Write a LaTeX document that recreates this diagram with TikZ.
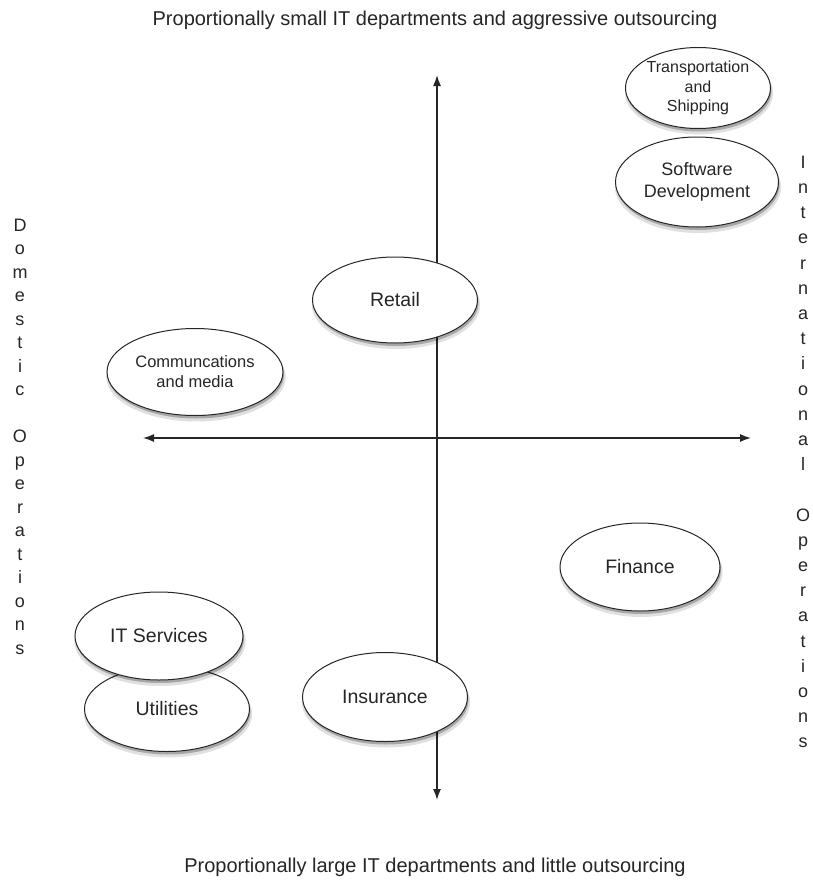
\documentclass[tikz,border=0pt]{standalone}
\usepackage{fontspec}
\setmainfont{Liberation Sans}
\usetikzlibrary{shapes.geometric,shadows,arrows.meta}
\begin{document}
\begin{tikzpicture}[x=1pt,y=-1pt,
  bub/.style={ellipse,draw=black!85,line width=1pt,fill=white,inner sep=0pt,align=center,text=black!85,
    drop shadow={shadow xshift=1pt,shadow yshift=-5pt,opacity=0.12,fill=black,shadow scale=1.02},
    drop shadow={shadow xshift=1pt,shadow yshift=-3pt,opacity=0.25,fill=black}},
  big/.style={font=\fontsize{19.5}{23}\selectfont},
  small/.style={font=\fontsize{16}{19.5}\selectfont},
  axis/.style={line width=1.4pt,draw=black!85,{Latex[length=11pt,width=8pt]}-{Latex[length=11pt,width=8pt]}},
  lbl/.style={text=black!85,font=\fontsize{20}{24}\selectfont,inner sep=0pt},
  side/.style={text=black!85,align=center,inner sep=0pt}]
\useasboundingbox (0,0) rectangle (812,886);
\fill[white] (0,0) rectangle (812,886);

% axes
\coordinate (top) at (437,75);
\coordinate (bot) at (437,800);
\coordinate (lft) at (143,438);
\coordinate (rgt) at (751,438);
\draw[axis] (lft) -- (rgt);
\draw[axis] (bot) -- (top);

% titles
\node[lbl,anchor=base] (ttop) at (435,25) {Proportionally small IT departments and aggressive outsourcing};
\node[lbl,anchor=base] (tbot) at (435,872) {Proportionally large IT departments and little outsourcing};

% side labels
\node[side,font=\fontsize{18}{23.5}\selectfont] (dom) at (20,436.5)
  {D\\o\\m\\e\\s\\t\\i\\c\\\mbox{}\\O\\p\\e\\r\\a\\t\\i\\o\\n\\s};
\node[side,font=\fontsize{18}{25.2}\selectfont] (intl) at (803,452)
  {I\\n\\t\\e\\r\\n\\a\\t\\i\\o\\n\\a\\l\\\mbox{}\\O\\p\\e\\r\\a\\t\\i\\o\\n\\s};

% bubbles
\node[bub,small,minimum width=137pt,minimum height=81pt] (trans) at (698,88) {Transportation\\and\\Shipping};
\node[bub,font=\fontsize{18}{22}\selectfont,minimum width=163pt,minimum height=90pt] (soft) at (697,182) {Software\\Development};
\node[bub,big,minimum width=165pt,minimum height=86pt] (retail) at (395,300) {Retail};
\node[bub,font=\fontsize{16.5}{20}\selectfont,minimum width=176pt,minimum height=87pt] (comm) at (195,372) {Communcations\\and media};
\node[bub,big,minimum width=160pt,minimum height=88pt] (fin) at (640,567) {Finance};
\node[bub,big,minimum width=165pt,minimum height=85pt] (util) at (167,709) {Utilities};
\node[bub,big,minimum width=168pt,minimum height=88pt] (its) at (159,636) {IT Services};
\node[bub,big,minimum width=165pt,minimum height=89pt] (ins) at (385,697) {Insurance};
\end{tikzpicture}
\end{document}
